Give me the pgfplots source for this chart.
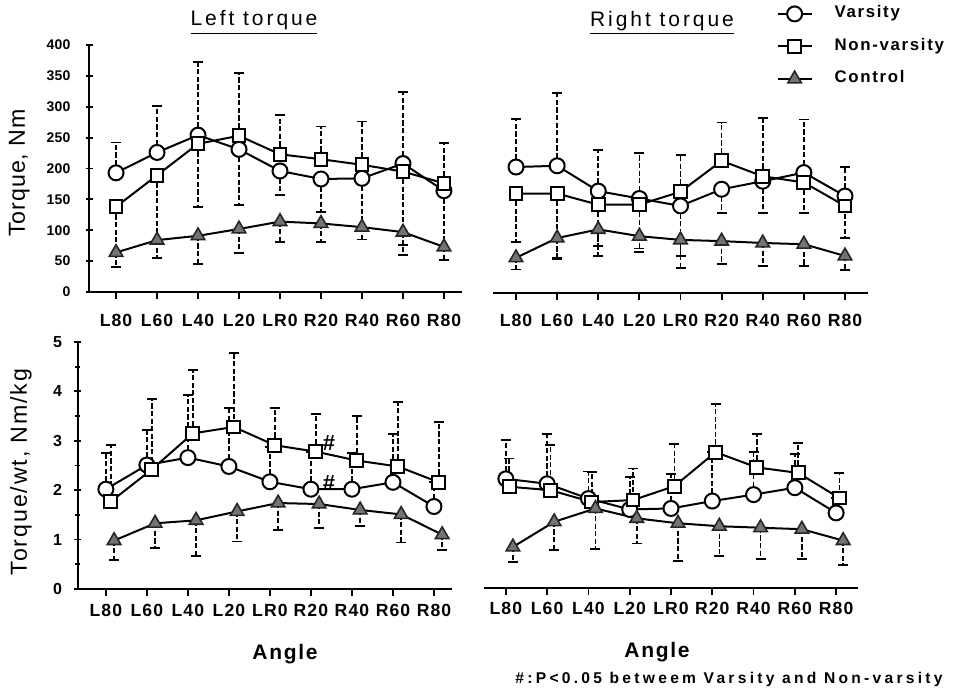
\documentclass[border=0pt]{standalone}
\usepackage{fontspec}
\setmainfont{Liberation Sans}
\usepackage{pgfplots}
\pgfplotsset{compat=1.18}
\usepackage{pgfplotstable}

% x v vp vm n np nm c cp cm
\pgfplotstableread{
x v vp vm n np nm c cp cm
0 193 49 0 138 0 73 64 0 23
1 226 75 0 189 0 104 84 0 29
2 254 118 0 240 0 103 91 0 46
3 231 0 90 253 102 0 102 0 39
4 196 0 39 223 64 0 114 0 33
5 183 0 54 215 53 0 111 0 30
6 184 0 79 206 70 0 105 0 20
7 208 116 0 195 0 119 97 0 37
8 164 0 91 176 65 0 73 0 21
}\TL
\pgfplotstableread{
x v vp vm n np nm c cp cm
0 204 78 0 161 0 78 57 0 19
1 206 118 0 161 0 104 89 0 34
2 165 67 0 143 0 67 103 0 43
3 153 74 0 143 0 71 92 0 25
4 141 0 81 164 59 0 86 0 45
5 168 0 38 214 62 0 84 0 37
6 181 0 51 189 94 0 81 0 37
7 195 86 0 179 0 50 79 0 35
8 157 47 0 141 0 52 60 0 23
}\TR
\pgfplotstableread{
x v vp vm xn n np nm xc c cp cm
0 2.02 0.74 0 0.12 1.77 1.14 0 0.2 0.98 0 0.39
1 2.51 0.71 0 1.12 2.42 1.42 0 1.2 1.33 0 0.50
2 2.66 1.26 0 2.12 3.15 1.29 0 2.2 1.39 0 0.72
3 2.48 1.19 0 3.12 3.28 1.50 0 3.2 1.57 0 0.61
4 2.17 0.70 0 4.12 2.91 0.76 0 4.2 1.74 0 0.54
5 2.02 0.76 0 5.12 2.78 0.77 0 5.2 1.72 0 0.49
6 2.02 0.74 0 6.12 2.60 0.90 0 6.2 1.60 0 0.33
7 2.16 0.98 0 7.12 2.48 1.31 0 7.2 1.51 0 0.57
8 1.67 0.49 0 8.12 2.16 1.22 0 8.2 1.10 0 0.31
}\BL
\pgfplotstableread{
x v vp vm xn n np nm xc c cp cm
0 2.21 0.78 0 0.08 2.05 0.57 0 0.17 0.83 0 0.31
1 2.11 1.01 0 1.08 1.98 0.92 0 1.17 1.34 0 0.57
2 1.81 0.55 0 2.08 1.74 0.60 0 2.17 1.61 0 0.82
3 1.59 0.66 0 3.08 1.78 0.64 0 3.17 1.41 0 0.51
4 1.61 0.70 0 4.08 2.06 0.86 0 4.17 1.31 0 0.76
5 1.76 0.99 0 5.08 2.75 0.98 0 5.17 1.25 0 0.60
6 1.89 0.86 0 6.08 2.44 0.67 0 6.17 1.22 0 0.64
7 2.03 0.69 0 7.08 2.33 0.60 0 7.17 1.19 0 0.61
8 1.52 0.30 0 8.08 1.82 0.51 0 8.17 0.96 0 0.50
}\BR

\pgfplotsset{
  panel/.style={
    scale only axis, height=123.5pt,
    axis x line=bottom,
    xtick={0,...,8},
    xticklabels={L80,L60,L40,L20,LR0,R20,R40,R60,R80},
    tick align=inside,
    major tick length=3.5pt, minor tick length=2.5pt,
    tick style={black, line width=0.9pt},
    x tick style={yshift=-3.5pt},
    xticklabel style={font=\fontsize{8.8}{10}\selectfont\bfseries\addfontfeatures{LetterSpace=6}, anchor=center},
    yticklabel style={font=\fontsize{7}{8}\selectfont\bfseries\addfontfeatures{LetterSpace=2}},
    /pgf/number format/assume math mode=true,
    clip=false,
  },
  fixlines/.style={axis line style={-, line width=1.1pt, black}},
  ebp/.style={forget plot, draw=none, mark=none,
    error bars/.cd, y dir=plus, y explicit,
    error bar style={draw=black, line width=0.8pt, dash pattern=on 2.6pt off 1.2pt},
    error mark options={solid, black, line width=0.9pt, mark size=2.5pt, rotate=90}},
  ebm/.style={forget plot, draw=none, mark=none,
    error bars/.cd, y dir=minus, y explicit,
    error bar style={draw=black, line width=0.8pt, dash pattern=on 2.6pt off 1.2pt},
    error mark options={solid, black, line width=0.9pt, mark size=2.5pt, rotate=90}},
  vs/.style={black, line width=1pt, mark=*, mark size=3.75pt, mark options={fill=white, solid, line width=1pt}},
  ns/.style={black, line width=1pt, mark=square*, mark size=3.2pt, mark options={fill=white, solid, line width=1pt}},
  cs/.style={black, line width=1pt, mark=triangle*, mark size=3.9pt, mark options={fill=black!55, draw=black!85, solid, line width=0.8pt}},
}

\begin{document}
\begin{tikzpicture}
\path[use as bounding box] (0,0) rectangle (477pt,350pt);

% ---------- top left ----------
\begin{axis}[panel, at={(44.5pt,204pt)}, anchor=south west, width=186.5pt,
  xmin=-0.66, xmax=8.44, ymin=0, ymax=400,
  axis y line=left, fixlines, ytick={0,50,...,400},
  xticklabel style={yshift=-14pt},
  yticklabel style={xshift=-4pt}]
\addplot[ebp] table[x=x, y=v, y error plus=vp] {\TL};
\addplot[ebm] table[x=x, y=v, y error minus=vm] {\TL};
\addplot[ebp] table[x=x, y=n, y error plus=np] {\TL};
\addplot[ebm] table[x=x, y=n, y error minus=nm] {\TL};
\addplot[ebm] table[x=x, y=c, y error minus=cm] {\TL};
\addplot[vs] table[x=x, y=v] {\TL};
\addplot[ns] table[x=x, y=n] {\TL};
\addplot[cs] table[x=x, y=c] {\TL};
\end{axis}

% ---------- top right ----------
\begin{axis}[panel, at={(246.5pt,203.5pt)}, anchor=south west, width=187.5pt,
  xmin=-0.56, xmax=8.56, ymin=0, ymax=400,
  axis y line=none, fixlines, ytick=\empty,
  xticklabel style={yshift=-13.5pt},
  legend style={at={(axis description cs:0.755,1.172)}, anchor=north west,
    draw=none, fill=none, inner sep=0pt, row sep=6.25pt,
    font=\fontsize{8.4}{9}\selectfont\bfseries\addfontfeatures{LetterSpace=10},
    nodes={inner sep=1pt, text height=6pt, text depth=2pt},
    /tikz/every odd column/.append style={column sep=10pt}},
  legend cell align=left]
\addplot[ebp] table[x=x, y=v, y error plus=vp] {\TR};
\addplot[ebm] table[x=x, y=v, y error minus=vm] {\TR};
\addplot[ebp] table[x=x, y=n, y error plus=np] {\TR};
\addplot[ebm] table[x=x, y=n, y error minus=nm] {\TR};
\addplot[ebm] table[x=x, y=c, y error minus=cm] {\TR};
\addplot[vs] table[x=x, y=v] {\TR};
\addlegendentry{Varsity}
\addplot[ns] table[x=x, y=n] {\TR};
\addlegendentry{Non-varsity}
\addplot[cs] table[x=x, y=c] {\TR};
\addlegendentry{Control}
\end{axis}

% ---------- bottom left ----------
\begin{axis}[panel, at={(39pt,55.5pt)}, anchor=south west, width=187pt,
  xmin=-0.68, xmax=8.44, ymin=0, ymax=5,
  axis y line=left, fixlines, ytick={0,...,5}, minor ytick={0.5,1.5,...,4.5},
  xticklabel style={yshift=-10.5pt},
  yticklabel style={xshift=-2.7pt, font=\fontsize{8}{9}\selectfont\bfseries}]
\addplot[ebp] table[x=x, y=v, y error plus=vp] {\BL};
\addplot[ebp] table[x=xn, y=n, y error plus=np] {\BL};
\addplot[ebm] table[x=xc, y=c, y error minus=cm] {\BL};
\addplot[vs] table[x=x, y=v] {\BL};
\addplot[ns] table[x=xn, y=n] {\BL};
\addplot[cs] table[x=xc, y=c] {\BL};
\node[font=\fontsize{11}{12}\selectfont\bfseries] at (axis cs:5.44,2.96) {\#};
\node[font=\fontsize{11}{12}\selectfont\bfseries] at (axis cs:5.44,2.15) {\#};
\end{axis}

% ---------- bottom right ----------
\begin{axis}[panel, at={(242pt,56pt)}, anchor=south west, width=187pt,
  xmin=-0.53, xmax=8.53, ymin=0, ymax=5,
  axis y line=none, fixlines, ytick=\empty,
  xticklabel style={yshift=-10pt}]
\addplot[ebp] table[x=x, y=v, y error plus=vp] {\BR};
\addplot[ebp] table[x=xn, y=n, y error plus=np] {\BR};
\addplot[ebm] table[x=xc, y=c, y error minus=cm] {\BR};
\addplot[vs] table[x=x, y=v] {\BR};
\addplot[ns] table[x=xn, y=n] {\BR};
\addplot[cs] table[x=xc, y=c] {\BR};
\end{axis}

% ---------- texts ----------
\node[anchor=base, inner sep=0pt, font=\fontsize{10.5}{12}\selectfont\addfontfeatures{LetterSpace=14}] at (127pt,337pt) {\underline{Left torque}};
\node[anchor=base, inner sep=0pt, font=\fontsize{10.5}{12}\selectfont\addfontfeatures{LetterSpace=14}] at (331pt,336.7pt) {\underline{Right torque}};
\node[anchor=base, rotate=90, inner sep=0pt, font=\fontsize{11.6}{13}\selectfont\addfontfeatures{LetterSpace=4}] at (12.5pt,263.5pt) {Torque, Nm};
\node[anchor=base, rotate=90, inner sep=0pt, font=\fontsize{11.6}{13}\selectfont\addfontfeatures{LetterSpace=8}] at (13.5pt,114pt) {Torque/wt, Nm/kg};
\node[anchor=base, inner sep=0pt, font=\fontsize{10.5}{12}\selectfont\bfseries\addfontfeatures{LetterSpace=8}] at (142.5pt,20pt) {Angle};
\node[anchor=base, inner sep=0pt, font=\fontsize{10.5}{12}\selectfont\bfseries\addfontfeatures{LetterSpace=8}] at (328.5pt,21pt) {Angle};
\node[anchor=base west, inner sep=0pt, font=\fontsize{7.8}{9}\selectfont\bfseries\addfontfeatures{LetterSpace=21}] at (257.5pt,8pt) {\#:P<0.05 betweem Varsity and Non-varsity};
\end{tikzpicture}
\end{document}
